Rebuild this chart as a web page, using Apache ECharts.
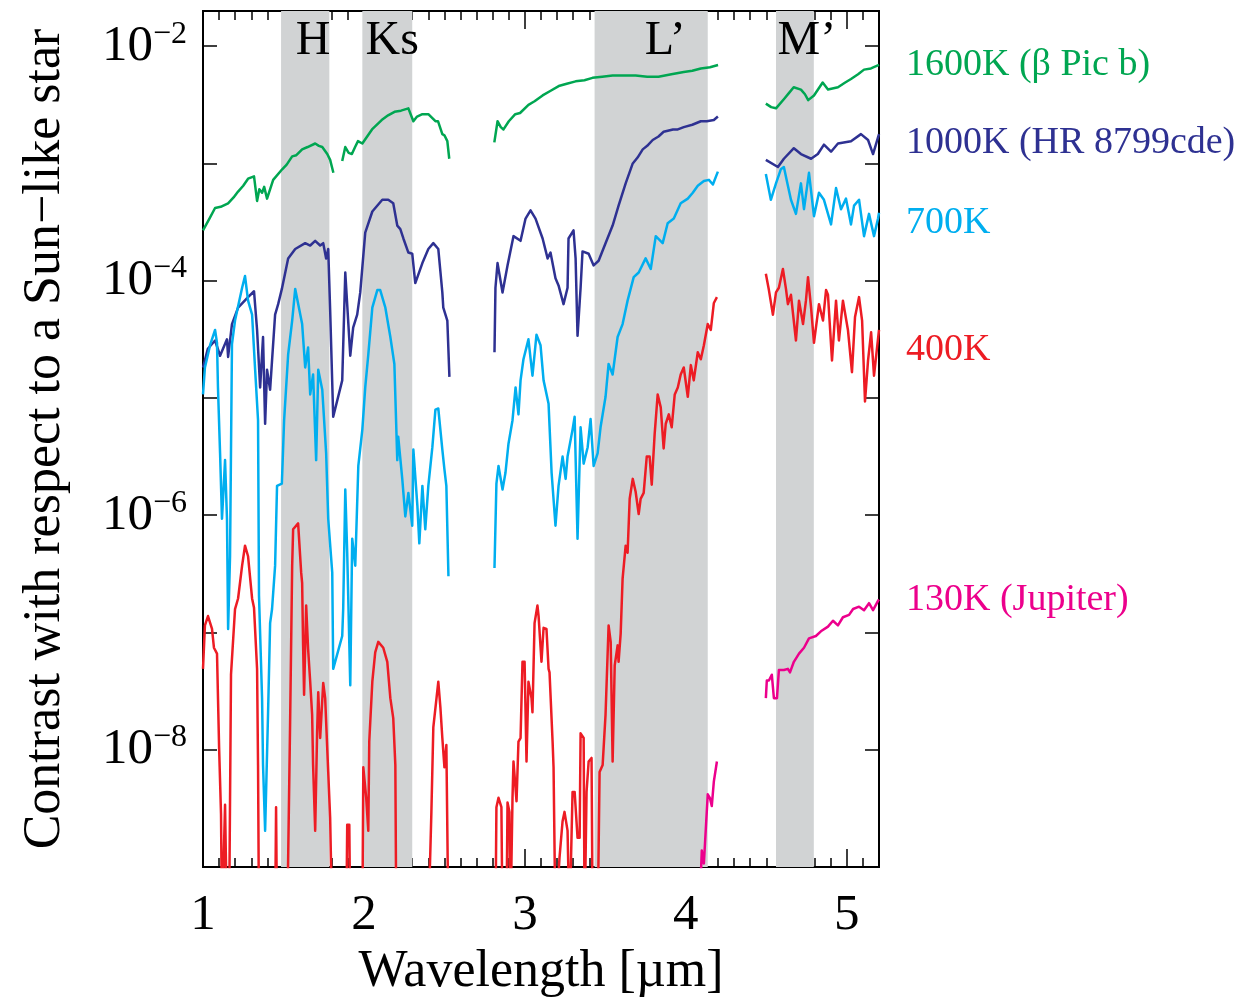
<!DOCTYPE html>
<html>
<head>
<meta charset="utf-8">
<script src="https://cdn.jsdelivr.net/npm/echarts@6/dist/echarts.min.js"></script>
<style>
html,body{margin:0;padding:0;background:#fff;width:1254px;height:1003px;overflow:hidden;}
#chart{width:1254px;height:1003px;display:block;overflow:hidden;}
</style>
</head>
<body>
<div id="chart"></div>
<script>
// ---------- DATA (wavelength in µm, log10 of contrast; null = gap) ----------
const logContrast1600K = [
  [1.00,-3.57],[1.04,-3.47],[1.075,-3.38],[1.11,-3.37],[1.156,-3.34],[1.19,-3.29],[1.218,-3.24],[1.25,-3.19],[1.28,-3.13],[1.317,-3.11],
  [1.336,-3.32],[1.35,-3.22],[1.367,-3.25],[1.38,-3.20],[1.398,-3.30],[1.436,-3.14],[1.492,-3.05],[1.52,-3.01],[1.554,-2.94],[1.58,-2.93],
  [1.616,-2.88],[1.65,-2.86],[1.697,-2.83],[1.72,-2.85],[1.741,-2.86],[1.772,-2.92],[1.79,-2.97],[1.81,-3.08],[1.84,null],
  [1.865,-2.98],[1.884,-2.86],[1.905,-2.91],[1.925,-2.92],[1.945,-2.86],[1.963,-2.81],[1.99,-2.83],[2.05,-2.71],[2.11,-2.63],[2.15,-2.59],
  [2.19,-2.56],[2.23,-2.55],[2.276,-2.53],[2.307,-2.64],[2.33,-2.60],[2.363,-2.58],[2.40,-2.58],[2.444,-2.64],[2.46,-2.64],[2.487,-2.75],
  [2.50,-2.76],[2.518,-2.81],[2.53,-2.96],[2.67,null],
  [2.81,-2.82],[2.83,-2.64],[2.85,-2.69],[2.867,-2.71],[2.90,-2.64],[2.94,-2.58],[2.97,-2.57],[3.022,-2.50],[3.06,-2.47],[3.11,-2.42],
  [3.16,-2.38],[3.21,-2.34],[3.26,-2.32],[3.315,-2.30],[3.37,-2.29],[3.42,-2.27],[3.48,-2.26],[3.545,-2.25],[3.62,-2.25],[3.688,-2.25],
  [3.76,-2.26],[3.83,-2.26],[3.91,-2.24],[3.987,-2.22],[4.04,-2.21],[4.093,-2.19],[4.15,-2.18],[4.20,-2.16],[4.35,null],
  [4.497,-2.49],[4.53,-2.52],[4.56,-2.53],[4.61,-2.45],[4.64,-2.40],[4.67,-2.35],[4.715,-2.37],[4.74,-2.41],[4.76,-2.46],[4.796,-2.42],
  [4.85,-2.31],[4.883,-2.37],[4.945,-2.35],[4.99,-2.31],[5.026,-2.28],[5.07,-2.24],[5.107,-2.20],[5.15,-2.19],[5.20,-2.16]
];
const logContrast1000K = [
  [1.00,-4.74],[1.03,-4.58],[1.075,-4.51],[1.106,-4.64],[1.149,-4.50],[1.156,-4.65],[1.18,-4.37],[1.218,-4.23],[1.28,-4.14],[1.317,-4.09],
  [1.336,-4.42],[1.355,-4.91],[1.373,-4.48],[1.386,-5.22],[1.398,-4.76],[1.417,-4.93],[1.429,-4.68],[1.448,-4.29],[1.467,-4.20],[1.49,-4.07],
  [1.529,-3.81],[1.573,-3.73],[1.635,-3.68],[1.666,-3.70],[1.697,-3.66],[1.728,-3.70],[1.747,-3.68],[1.765,-3.81],[1.778,-3.73],[1.79,-4.25],
  [1.809,-5.16],[1.865,-4.85],[1.884,-3.93],[1.915,-4.64],[1.933,-4.40],[1.958,-4.29],[1.977,-4.10],[2.008,-3.59],[2.052,-3.41],[2.114,-3.31],
  [2.151,-3.31],[2.182,-3.34],[2.207,-3.53],[2.226,-3.56],[2.245,-3.64],[2.276,-3.76],[2.30,-3.77],[2.319,-4.02],[2.363,-3.85],[2.40,-3.73],
  [2.431,-3.68],[2.462,-3.73],[2.487,-4.10],[2.493,-4.23],[2.518,-4.34],[2.531,-4.82],[2.67,null],
  [2.811,-4.61],[2.817,-4.06],[2.83,-3.85],[2.861,-4.10],[2.892,-3.87],[2.929,-3.62],[2.973,-3.66],[3.004,-3.47],[3.035,-3.40],[3.066,-3.47],
  [3.11,-3.64],[3.141,-3.81],[3.159,-3.76],[3.19,-3.98],[3.209,-4.04],[3.24,-4.20],[3.265,-4.06],[3.271,-3.64],[3.302,-3.57],[3.315,-3.81],
  [3.327,-4.47],[3.346,-4.06],[3.358,-3.75],[3.396,-3.77],[3.427,-3.87],[3.458,-3.83],[3.501,-3.68],[3.545,-3.53],[3.582,-3.36],[3.626,-3.17],
  [3.67,-3.00],[3.70,-2.95],[3.732,-2.88],[3.76,-2.85],[3.794,-2.80],[3.83,-2.77],[3.862,-2.73],[3.92,-2.71],[3.95,-2.71],[3.987,-2.69],[4.04,-2.67],[4.093,-2.64],[4.13,-2.64],[4.174,-2.63],[4.199,-2.60],[4.35,null],
  [4.497,-2.97],[4.572,-3.03],[4.609,-2.96],[4.671,-2.87],[4.715,-2.92],[4.778,-2.96],[4.82,-2.92],[4.858,-2.84],[4.902,-2.90],[4.945,-2.83],
  [5.026,-2.81],[5.088,-2.75],[5.132,-2.80],[5.163,-2.92],[5.20,-2.75]
];
const logContrast700K = [
  [1.00,-4.97],[1.012,-4.74],[1.044,-4.55],[1.075,-4.42],[1.087,-4.53],[1.093,-4.91],[1.106,-5.47],[1.118,-6.03],[1.137,-5.53],[1.149,-6.03],
  [1.156,-6.97],[1.168,-6.35],[1.18,-4.54],[1.199,-4.34],[1.243,-4.06],[1.261,-3.96],[1.28,-4.17],[1.305,-4.29],[1.324,-4.76],[1.342,-5.19],
  [1.348,-6.69],[1.367,-7.56],[1.373,-8.13],[1.386,-8.69],[1.404,-7.70],[1.417,-6.92],[1.429,-6.80],[1.448,-6.43],[1.46,-5.75],[1.49,-5.73],
  [1.504,-5.19],[1.529,-4.63],[1.554,-4.34],[1.573,-4.07],[1.616,-4.37],[1.635,-4.74],[1.653,-4.57],[1.666,-4.97],[1.684,-4.80],[1.703,-5.53],
  [1.716,-4.76],[1.741,-4.93],[1.765,-5.47],[1.778,-6.03],[1.803,-6.49],[1.809,-7.31],[1.865,-7.03],[1.871,-6.80],[1.884,-5.78],[1.896,-6.32],
  [1.915,-7.45],[1.927,-6.20],[1.946,-6.43],[1.965,-5.58],[1.99,-5.27],[2.008,-4.91],[2.027,-4.63],[2.052,-4.23],[2.083,-4.08],[2.101,-4.08],
  [2.133,-4.23],[2.164,-4.48],[2.189,-4.71],[2.207,-5.53],[2.213,-5.33],[2.238,-5.69],[2.257,-6.01],[2.276,-5.81],[2.30,-6.09],[2.307,-5.44],
  [2.332,-5.92],[2.344,-6.24],[2.363,-5.75],[2.381,-6.12],[2.40,-5.75],[2.425,-5.42],[2.444,-5.10],[2.462,-5.09],[2.487,-5.44],[2.50,-5.61],
  [2.512,-5.75],[2.525,-6.52],[2.67,null],
  [2.811,-6.45],[2.823,-5.73],[2.836,-5.58],[2.861,-5.78],[2.879,-5.64],[2.898,-5.39],[2.923,-5.19],[2.942,-4.91],[2.96,-5.14],[2.973,-4.85],
  [2.991,-4.67],[3.022,-4.50],[3.047,-4.81],[3.072,-4.46],[3.097,-4.55],[3.116,-4.85],[3.147,-5.05],[3.166,-5.64],[3.19,-6.09],[3.209,-5.75],
  [3.234,-5.50],[3.253,-5.69],[3.265,-5.50],[3.296,-5.27],[3.309,-5.16],[3.327,-6.20],[3.346,-5.25],[3.365,-5.56],[3.39,-5.42],[3.408,-5.18],
  [3.427,-5.58],[3.452,-5.47],[3.47,-5.25],[3.501,-4.99],[3.52,-4.71],[3.545,-4.80],[3.576,-4.48],[3.607,-4.37],[3.638,-4.17],[3.676,-3.97],
  [3.707,-3.93],[3.75,-3.81],[3.782,-3.90],[3.813,-3.62],[3.856,-3.68],[3.887,-3.51],[3.925,-3.47],[3.968,-3.34],[4.012,-3.30],[4.043,-3.25],
  [4.074,-3.19],[4.112,-3.15],[4.143,-3.14],[4.168,-3.18],[4.199,-3.07],[4.35,null],
  [4.497,-3.09],[4.528,-3.31],[4.56,-3.17],[4.59,-3.05],[4.609,-3.03],[4.634,-3.19],[4.653,-3.31],[4.684,-3.43],[4.715,-3.17],[4.734,-3.39],
  [4.765,-3.08],[4.796,-3.45],[4.827,-3.25],[4.858,-3.31],[4.902,-3.52],[4.933,-3.21],[4.964,-3.39],[4.995,-3.30],[5.026,-3.52],[5.045,-3.36],
  [5.076,-3.31],[5.107,-3.62],[5.138,-3.43],[5.169,-3.62],[5.194,-3.47],[5.20,-3.42]
];
const logContrast400K = [
  [1.00,-7.31],[1.012,-6.94],[1.031,-6.86],[1.056,-6.97],[1.068,-7.13],[1.087,-7.18],[1.10,-7.98],[1.112,-8.55],[1.118,-9.5],[1.137,-8.47],
  [1.149,-9.5],[1.162,-9.5],[1.174,-7.36],[1.199,-6.80],[1.218,-6.71],[1.243,-6.43],[1.261,-6.26],[1.28,-6.35],[1.305,-6.71],[1.317,-6.79],
  [1.336,-7.31],[1.342,-8.13],[1.348,-9.5],[1.448,-9.5],[1.454,-8.49],[1.46,-9.5],[1.523,-9.5],[1.541,-7.79],[1.554,-6.43],[1.56,-6.12],
  [1.591,-6.07],[1.61,-6.49],[1.616,-6.58],[1.622,-7.11],[1.628,-7.53],[1.641,-6.77],[1.653,-7.14],[1.666,-7.42],[1.678,-7.70],[1.684,-8.13],
  [1.697,-8.69],[1.709,-7.85],[1.716,-7.51],[1.728,-7.90],[1.747,-7.43],[1.759,-7.56],[1.778,-8.19],[1.79,-8.58],[1.803,-9.5],[1.89,-9.5],
  [1.896,-8.64],[1.909,-8.64],[1.915,-9.5],[1.99,-9.5],[1.996,-8.15],[2.014,-8.41],[2.027,-8.69],[2.033,-7.93],[2.052,-7.42],[2.07,-7.17],
  [2.089,-7.08],[2.12,-7.13],[2.145,-7.25],[2.164,-7.56],[2.182,-7.73],[2.195,-8.13],[2.201,-9.5],[2.40,-9.5],[2.419,-8.53],[2.431,-7.81],
  [2.462,-7.42],[2.475,-7.64],[2.487,-7.90],[2.50,-8.15],[2.512,-7.96],[2.525,-9.5],[2.67,null],
  [2.817,-9.5],[2.823,-8.49],[2.836,-8.41],[2.854,-8.49],[2.861,-9.5],[2.885,-9.5],[2.892,-8.45],[2.904,-8.53],[2.91,-9.5],[2.923,-8.41],
  [2.929,-8.10],[2.948,-8.44],[2.96,-7.93],[2.973,-7.90],[2.985,-7.25],[2.998,-7.25],[3.01,-8.10],[3.022,-7.42],[3.041,-7.56],[3.047,-7.68],
  [3.06,-6.92],[3.078,-6.77],[3.085,-6.86],[3.103,-7.25],[3.116,-6.96],[3.134,-6.97],[3.147,-7.31],[3.153,-7.34],[3.172,-7.93],[3.178,-8.15],
  [3.19,-9.5],[3.215,-8.92],[3.234,-8.61],[3.246,-8.53],[3.265,-8.69],[3.277,-9.5],[3.296,-8.36],[3.309,-8.36],[3.327,-8.75],[3.34,-8.75],
  [3.346,-7.86],[3.365,-7.90],[3.371,-9.5],[3.383,-8.36],[3.396,-8.10],[3.414,-8.07],[3.421,-9.5],[3.452,-9.5],[3.464,-8.19],[3.483,-8.13],
  [3.501,-7.70],[3.52,-6.94],[3.533,-7.08],[3.545,-8.10],[3.558,-7.28],[3.576,-7.11],[3.582,-7.25],[3.595,-7.01],[3.607,-6.54],[3.626,-6.26],
  [3.638,-6.32],[3.651,-5.86],[3.67,-5.69],[3.688,-5.80],[3.707,-5.99],[3.719,-5.86],[3.738,-5.81],[3.757,-5.50],[3.775,-5.50],[3.788,-5.74],
  [3.806,-5.31],[3.825,-4.97],[3.844,-5.08],[3.862,-5.43],[3.875,-5.22],[3.894,-5.14],[3.912,-5.25],[3.931,-4.97],[3.95,-4.91],[3.968,-4.80],
  [3.987,-4.74],[4.012,-4.99],[4.031,-4.72],[4.049,-4.85],[4.074,-4.61],[4.093,-4.67],[4.112,-4.55],[4.136,-4.37],[4.155,-4.42],[4.174,-4.19],
  [4.193,-4.14],[4.35,null],
  [4.497,-3.94],[4.516,-4.08],[4.541,-4.29],[4.56,-4.10],[4.578,-4.06],[4.603,-3.90],[4.622,-4.07],[4.634,-4.20],[4.653,-4.12],[4.684,-4.51],
  [4.703,-4.17],[4.728,-4.37],[4.746,-4.17],[4.759,-3.97],[4.778,-4.23],[4.796,-4.53],[4.827,-4.20],[4.852,-4.34],[4.871,-4.08],[4.883,-4.12],
  [4.908,-4.68],[4.933,-4.17],[4.951,-4.51],[4.976,-4.17],[5.007,-4.42],[5.032,-4.78],[5.051,-4.31],[5.076,-4.14],[5.095,-4.34],[5.113,-5.03],
  [5.132,-4.68],[5.151,-4.44],[5.169,-4.81],[5.188,-4.57],[5.20,-4.42]
];
const logContrast130K = [
  [4.087,-9.3],[4.099,-8.86],[4.112,-8.97],[4.136,-8.38],[4.149,-8.41],[4.161,-8.48],[4.174,-8.27],[4.193,-8.10],[4.35,null],
  [4.497,-7.56],[4.503,-7.41],[4.516,-7.41],[4.534,-7.36],[4.547,-7.56],[4.566,-7.56],[4.578,-7.32],[4.609,-7.32],[4.634,-7.31],[4.647,-7.34],
  [4.671,-7.25],[4.703,-7.18],[4.734,-7.13],[4.765,-7.05],[4.808,-7.03],[4.839,-6.99],[4.883,-6.95],[4.914,-6.90],[4.945,-6.94],[4.976,-6.87],
  [5.014,-6.85],[5.039,-6.80],[5.076,-6.78],[5.107,-6.81],[5.138,-6.75],[5.163,-6.81],[5.194,-6.73],[5.20,-6.72]
];
const seriesNames = ['1600K (β Pic b)', '1000K (HR 8799cde)', '700K', '400K', '130K (Jupiter)'];
const bandNames  = ['H', 'Ks', 'L’', 'M’'];
const bandStarts = [1.485, 1.99, 3.433, 4.56];
const bandEnds   = [1.785, 2.30, 4.136, 4.795];
const yTickExponents = [-2, -4, -6, -8];

// ---------- STYLE ----------
const FONT = '"Liberation Serif", "Times New Roman", Times, serif';
const colors = ['#00a651', '#2e3192', '#00aeef', '#ed1c24', '#ec008c'];
const labelOffsetsY = [0, 9, 10, 20, 0];
const bandLabelDx = [8, 5, 14, 12];

const allData = [logContrast1600K, logContrast1000K, logContrast700K, logContrast400K, logContrast130K];
const toLinear = arr => arr.map(p => [p[0], p[1] === null ? '-' : Math.pow(10, p[1])]);

const lineSeries = allData.map((d, i) => ({
  name: seriesNames[i],
  type: 'line',
  xAxisIndex: 0, yAxisIndex: 0,
  data: toLinear(d),
  showSymbol: false,
  symbol: 'none',
  connectNulls: false,
  clip: true,
  z: 3,
  lineStyle: { color: colors[i], width: 2.5, join: 'round' },
  itemStyle: { color: colors[i] },
  endLabel: {
    show: true,
    formatter: seriesNames[i],
    color: colors[i],
    fontFamily: FONT,
    fontSize: 38,
    distance: 27,
    offset: [0, labelOffsetsY[i]]
  }
}));

const bandSeries = {
  type: 'line',
  name: 'bands',
  xAxisIndex: 0, yAxisIndex: 0,
  data: [],
  z: 1,
  silent: true,
  markArea: {
    silent: true,
    itemStyle: { color: '#d1d3d4', opacity: 1 },
    label: { show: true, position: 'insideTop', distance: 6, color: '#000', fontFamily: FONT, fontSize: 48 },
    data: bandNames.map((n, i) => [
      { name: n, xAxis: bandStarts[i], label: { offset: [bandLabelDx[i], 0] } },
      { xAxis: bandEnds[i] }
    ])
  }
};

const axisLineStyle = { show: true, onZero: false, lineStyle: { color: '#000', width: 2 } };
const xMajor = (pos, showLabel, extra) => Object.assign({
  type: 'value', position: pos, min: 1, max: 5.2, interval: 1,
  axisLine: axisLineStyle,
  axisTick: { show: true, inside: true, length: 18, lineStyle: { color: '#000', width: 1.5 } },
  minorTick: { show: false },
  splitLine: { show: false },
  axisLabel: showLabel ? {
    show: true, margin: 23, color: '#000', fontFamily: FONT, fontSize: 51,
    formatter: v => (Math.abs(v - Math.round(v)) < 1e-6 ? String(Math.round(v)) : '')
  } : { show: false }
}, extra || {});
const xMinor = pos => ({
  type: 'value', position: pos, min: 1, max: 5.2, interval: 0.1,
  axisLine: axisLineStyle,
  axisTick: { show: true, inside: true, length: 9, lineStyle: { color: '#000', width: 1.5 } },
  splitLine: { show: false },
  axisLabel: { show: false }
});

const yFmt = v => {
  const e = Math.round(Math.log10(v));
  if (Math.abs(Math.log10(v) - e) > 0.01) return '';
  if (yTickExponents.indexOf(e) < 0) return '';
  return '{b|10}{s|−' + (-e) + '}';
};
const yAxisBase = pos => ({
  type: 'log', logBase: 10, position: pos,
  min: 1e-9, max: Math.pow(10, -1.7),
  axisLine: axisLineStyle,
  axisTick: { show: true, inside: true, length: 14, lineStyle: { color: '#000', width: 1.5 } },
  minorTick: { show: false },
  splitLine: { show: false },
  axisLabel: { show: false }
});
const yLeft = Object.assign(yAxisBase('left'), {
  axisLabel: {
    show: true, margin: 16, formatter: yFmt,
    rich: {
      b: { fontFamily: FONT, fontSize: 51, lineHeight: 56, color: '#000' },
      s: { fontFamily: FONT, fontSize: 32, lineHeight: 28, color: '#000', verticalAlign: 'top' }
    }
  },
  name: 'Contrast with respect to a Sun−like star',
  nameLocation: 'middle',
  nameGap: 132,
  nameTextStyle: { fontFamily: FONT, fontSize: 52, color: '#000' }
});

const option = {
  animation: false,
  backgroundColor: '#fff',
  grid: { left: 203, right: 375, top: 11, bottom: 131, containLabel: false },
  xAxis: [
    xMajor('bottom', true, {
      name: 'Wavelength [µm]', nameLocation: 'middle', nameGap: 79,
      nameTextStyle: { fontFamily: FONT, fontSize: 52, color: '#000' }
    }),
    xMinor('bottom'),
    xMajor('top', false),
    xMinor('top')
  ],
  yAxis: [yLeft, yAxisBase('right')],
  series: [bandSeries].concat(lineSeries)
};

const chart = echarts.init(document.getElementById('chart'), null, { renderer: 'canvas', width: 1254, height: 1003 });
chart.setOption(option);
</script>
</body>
</html>
